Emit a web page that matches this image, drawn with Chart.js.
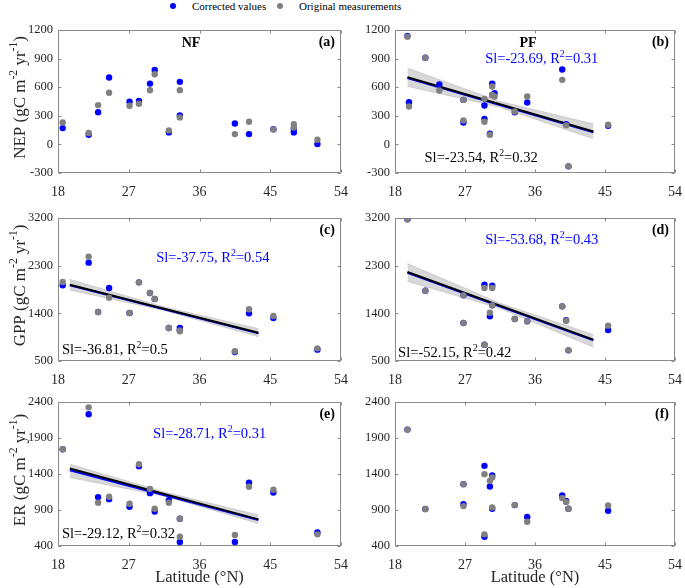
<!DOCTYPE html>
<html><head><meta charset="utf-8">
<script src="https://cdn.jsdelivr.net/npm/chart.js@4/dist/chart.umd.min.js"></script>
<style>
html,body{margin:0;padding:0;background:#fff}
body{width:685px;height:588px;position:relative;overflow:hidden;font-family:'Liberation Serif','Times New Roman',serif}
.w{position:absolute}
.lg{position:absolute;top:0;font-size:11px;line-height:13px;color:#000;white-space:nowrap}
.dot{position:absolute;width:6px;height:6px;border-radius:50%}
</style></head><body>
<div class="dot" style="left:170px;top:3px;background:#0000ff"></div>
<div class="lg" style="left:192px">Corrected values</div>
<div class="dot" style="left:277px;top:3px;background:#808080"></div>
<div class="lg" style="left:299px">Original measurements</div>
<div class="w" id="wa"><canvas id="ca"></canvas></div>
<div class="w" id="wb"><canvas id="cb"></canvas></div>
<div class="w" id="wc"><canvas id="cc"></canvas></div>
<div class="w" id="wd"><canvas id="cd"></canvas></div>
<div class="w" id="we"><canvas id="ce"></canvas></div>
<div class="w" id="wf"><canvas id="cf"></canvas></div>
<script>
// ---------- tick labels ----------
const latTicks = [18, 27, 36, 45, 54];
const nepTicks = [-300, 0, 300, 600, 900, 1200];
const gppTicks = [500, 1400, 2300, 3200];
const erTicks  = [400, 900, 1400, 1900, 2400];

// ---------- (a) NF NEP ----------
const aLat  = [18.6, 21.9, 23.1, 24.5, 27.1, 28.3, 29.7, 30.3, 32.1, 33.5, 33.5, 40.5, 42.3, 45.4, 48.0, 48.0, 51.0];
const aCorr = [171, 101, 338, 701, 447, 457, 638, 781, 126, 656, 303, 220, 108, 160, 161, 126, 3];
const aOrig = [230, 119, 412, 541, 405, 426, 569, 736, 147, 569, 283, 108, 237, 157, 213, 178, 49];

// ---------- (b) PF NEP ----------
const bLat  = [19.6, 19.8, 21.9, 23.7, 26.8, 26.8, 29.5, 29.5, 30.2, 30.5, 30.5, 30.8, 33.4, 35.0, 39.5, 40.0, 40.3, 45.4];
const bCorr = [1137, 443, 910, 628, 230, 467, 408, 268, 112, 638, 520, 537, 338, 440, 785, 213, -230, 195];
const bOrig = [1130, 398, 910, 565, 251, 467, 478, 237, 101, 607, 520, 502, 345, 502, 677, 200, -230, 206];
const bFitLat  = [19.6, 43.5];
const bFitCorr = [695, 128];
const bFitOrig = [705, 136];
const bBandLat = [19.6, 31.5, 43.5];
const bBandUp  = [800, 450, 215];
const bBandLo  = [610, 390, 60];

// ---------- (c) NF GPP ----------
const cLat  = [18.6, 21.9, 23.1, 24.5, 27.1, 28.3, 29.7, 30.3, 32.1, 33.5, 33.5, 40.5, 42.3, 45.4, 51.0];
const cCorr = [1929, 2357, 1425, 1878, 1406, 1985, 1784, 1671, 1123, 1123, 1079, 670, 1400, 1312, 714];
const cOrig = [1992, 2470, 1425, 1696, 1406, 1985, 1784, 1671, 1123, 1079, 1060, 683, 1476, 1350, 739];
const cFitLat  = [19.5, 43.5];
const cFitCorr = [1930, 1022];
const cFitOrig = [1941, 1035];
const cBandLat = [19.5, 31.5, 43.5];
const cBandUp  = [2040, 1520, 1110];
const cBandLo  = [1840, 1455, 960];

// ---------- (d) PF GPP ----------
const dLat  = [19.6, 21.9, 26.8, 26.8, 29.5, 29.5, 30.2, 30.5, 30.5, 33.4, 35.0, 39.5, 40.0, 40.3, 45.4];
const dCorr = [3175, 1828, 1740, 1217, 1941, 808, 1343, 1922, 1551, 1293, 1249, 1532, 1268, 701, 1085];
const dOrig = [3175, 1828, 1740, 1217, 1878, 808, 1413, 1878, 1551, 1293, 1249, 1532, 1262, 701, 1167];
const dFitLat  = [19.6, 43.5];
const dFitCorr = [2165, 893];
const dFitOrig = [2180, 903];
const dBandLat = [19.6, 31.5, 43.5];
const dBandUp  = [2338, 1590, 997];
const dBandLo  = [2004, 1495, 764];

// ---------- (e) NF ER ----------
const eLat  = [18.6, 21.9, 23.1, 24.5, 27.1, 28.3, 29.7, 30.3, 32.1, 33.5, 33.5, 40.5, 42.3, 45.4, 51.0];
const eCorr = [1744, 2229, 1079, 1051, 945, 1509, 1134, 880, 1037, 779, 455, 455, 1278, 1144, 589];
const eOrig = [1744, 2326, 1000, 1084, 987, 1536, 1194, 917, 1000, 779, 529, 552, 1222, 1181, 562];
const eFitLat  = [19.5, 43.5];
const eFitCorr = [1453, 760];
const eFitOrig = [1476, 770];
const eBandLat = [19.5, 31.5, 43.5];
const eBandUp  = [1536, 1150, 830];
const eBandLo  = [1352, 1095, 714];

// ---------- (f) PF ER ----------
const fLat  = [19.6, 21.9, 26.8, 26.8, 29.5, 29.5, 30.2, 30.5, 30.5, 33.4, 35.0, 39.5, 40.0, 40.3, 45.4];
const fCorr = [2017, 913, 1259, 982, 1513, 529, 1227, 1379, 917, 968, 802, 1102, 1024, 917, 890];
const fOrig = [2017, 913, 1259, 954, 1398, 562, 1305, 1351, 936, 968, 737, 1065, 1010, 917, 963];

// ---------- styling ----------
const FONT = "'Liberation Serif','Times New Roman',serif";
const BLUE = '#0000ff', GRAY = '#808080', FRAME = '#8a8a8a', TXT = '#262626', BAND = '#d8d8d8';
Chart.defaults.font.family = FONT;

function fnt(size, weight) { return (weight || 'normal') + ' ' + size + 'px ' + FONT; }
function richW(ctx, parts, size, weight) {
  let w = 0;
  for (const [t, s] of parts) { ctx.font = fnt(s ? size * 0.68 : size, weight); w += ctx.measureText(t).width; }
  return w;
}
function drawRich(ctx, parts, x, y, size, color, align, weight) {
  ctx.fillStyle = color; ctx.textBaseline = 'alphabetic'; ctx.textAlign = 'left';
  let cx = align === 'center' ? x - richW(ctx, parts, size, weight) / 2 : (align === 'right' ? x - richW(ctx, parts, size, weight) : x);
  const base = y + size * 0.33;
  for (const [t, s] of parts) {
    ctx.font = fnt(s ? size * 0.68 : size, weight);
    ctx.fillText(t, cx, s ? base - size * 0.42 : base);
    cx += ctx.measureText(t).width;
  }
}
const unitParts = name => [[name + ' (gC m', 0], ['-2', 1], [' yr', 0], ['-1', 1], [')', 0]];
const slParts = (sl, r2) => [['Sl=' + sl + ', R', 0], ['2', 1], ['=' + r2, 0]];

function makeDecor(p) {
  return {
    id: 'decor' + p.id,
    beforeDatasetsDraw(chart) {
      const { ctx, chartArea: a } = chart;
      const xs = chart.scales.x, ys = chart.scales.y;
      const L = Math.round(a.left) + 0.5, R = Math.round(a.right) - 0.5, T = Math.round(a.top) + 0.5, B = Math.round(a.bottom) - 0.5;
      ctx.save();
      ctx.strokeStyle = FRAME; ctx.lineWidth = 1;
      ctx.strokeRect(L, T, R - L, B - T);
      ctx.beginPath();
      ys.ticks.forEach(t => {
        const y = Math.round(ys.getPixelForValue(t.value)) + 0.5;
        ctx.moveTo(L, y); ctx.lineTo(L + 3, y); ctx.moveTo(R, y); ctx.lineTo(R - 3, y);
      });
      xs.ticks.forEach(t => {
        const x = Math.round(xs.getPixelForValue(t.value)) + 0.5;
        ctx.moveTo(x, B); ctx.lineTo(x, B - 3); ctx.moveTo(x, T); ctx.lineTo(x, T + 3);
      });
      ctx.stroke();
      ctx.restore();
    },
    afterDatasetsDraw(chart) {
      const { ctx, chartArea: a } = chart;
      const xs = chart.scales.x, ys = chart.scales.y;
      ctx.save();
      ctx.font = fnt(14, 'bold'); ctx.fillStyle = '#000'; ctx.textAlign = 'right'; ctx.textBaseline = 'middle';
      ctx.fillText(p.label, a.right - 6, a.top + 12);
      if (p.group) {
        ctx.textAlign = 'center';
        ctx.fillText(p.group, a.left + 133, a.top + 13);
      }
      (p.notes || []).forEach(n => {
        drawRich(ctx, slParts(n.sl, n.r2), xs.getPixelForValue(n.x), ys.getPixelForValue(n.y), 14.5, n.color, 'left');
      });
      if (p.ytitle) {
        ctx.save();
        ctx.translate(a.left - 39, (a.top + a.bottom) / 2 - 4);
        ctx.rotate(-Math.PI / 2);
        drawRich(ctx, unitParts(p.ytitle), 0, 0, 17, TXT, 'center');
        ctx.restore();
      }
      if (p.xtitle) {
        drawRich(ctx, [[p.xtitle, 0]], (a.left + a.right) / 2, a.bottom + 31, 16.5, TXT, 'center');
      }
      ctx.restore();
    }
  };
}

const pts = (xs, ys) => xs.map((x, i) => ({ x: x, y: ys[i] }));
const PADT = 13;

function build(p) {
  const wrap = document.getElementById('w' + p.id);
  const cv = document.getElementById('c' + p.id);
  const H = PADT + p.plotH + p.xh;
  wrap.style.left = p.left + 'px'; wrap.style.top = (p.plotTop - PADT) + 'px';
  cv.width = p.W; cv.height = H; cv.style.width = p.W + 'px'; cv.style.height = H + 'px';
  const ds = [];
  ds.push({ label: 'Corrected values', data: pts(p.lat, p.corr), backgroundColor: BLUE, borderWidth: 0, pointRadius: 3.2, order: 1 });
  ds.push({ label: 'Original measurements', data: pts(p.lat, p.orig), backgroundColor: GRAY, borderWidth: 0, pointRadius: 3.2, order: 0 });
  if (p.fit) {
    const f = p.fit;
    ds.push({ label: 'band up', data: pts(f.bandLat, f.up), showLine: true, pointRadius: 0, borderWidth: 0.8, borderColor: '#c4c4c4', backgroundColor: BAND, fill: '+1', order: 5 });
    ds.push({ label: 'band lo', data: pts(f.bandLat, f.lo), showLine: true, pointRadius: 0, borderWidth: 0.8, borderColor: '#c4c4c4', fill: false, order: 4 });
    ds.push({ label: 'fit corrected', data: pts(f.lat, f.corr), showLine: true, pointRadius: 0, borderWidth: 2, borderColor: BLUE, fill: false, order: 3 });
    ds.push({ label: 'fit original', data: pts(f.lat, f.orig), showLine: true, pointRadius: 0, borderWidth: 2, borderColor: '#000', fill: false, order: 2 });
  }
  const yt = p.ticks;
  new Chart(cv, {
    type: 'scatter',
    data: { datasets: ds },
    options: {
      responsive: false, animation: false, devicePixelRatio: 1,
      layout: { padding: { top: PADT, right: p.padR, left: 0, bottom: 0 } },
      plugins: { legend: { display: false }, tooltip: { enabled: false } },
      scales: {
        x: {
          type: 'linear', min: latTicks[0], max: latTicks[latTicks.length - 1],
          afterBuildTicks: s => { s.ticks = latTicks.map(v => ({ value: v })); },
          afterFit: s => { s.height = p.xh; },
          grid: { display: false, drawTicks: true, tickLength: 8 }, border: { display: false },
          ticks: { font: { size: 14 }, color: TXT, padding: 3, maxRotation: 0, autoSkip: false, callback: v => String(v) }
        },
        y: {
          type: 'linear', min: yt[0], max: yt[yt.length - 1],
          afterBuildTicks: s => { s.ticks = yt.map(v => ({ value: v })); },
          afterFit: s => { s.width = p.yw; },
          grid: { display: false, drawTicks: false }, border: { display: false },
          ticks: { font: { size: 12.5 }, color: TXT, padding: 5, autoSkip: false, callback: v => String(v) }
        }
      }
    },
    plugins: [makeDecor(p)]
  });
}

const panels = [
  { id: 'a', left: 0, plotTop: 30, W: 351, padR: 10, yw: 58, xh: 28, plotH: 143, ticks: nepTicks, lat: aLat, corr: aCorr, orig: aOrig, label: '(a)', group: 'NF', ytitle: 'NEP' },
  { id: 'b', left: 340, plotTop: 30, W: 345, padR: 7, yw: 55, xh: 28, plotH: 143, ticks: nepTicks, lat: bLat, corr: bCorr, orig: bOrig, label: '(b)', group: 'PF',
    fit: { lat: bFitLat, corr: bFitCorr, orig: bFitOrig, bandLat: bBandLat, up: bBandUp, lo: bBandLo },
    notes: [{ x: 29.6, y: 906, color: BLUE, sl: '-23.69', r2: '0.31' }, { x: 21.8, y: -132, color: '#000', sl: '-23.54', r2: '0.32' }] },
  { id: 'c', left: 0, plotTop: 218, W: 351, padR: 10, yw: 58, xh: 28, plotH: 143, ticks: gppTicks, lat: cLat, corr: cCorr, orig: cOrig, label: '(c)', ytitle: 'GPP',
    fit: { lat: cFitLat, corr: cFitCorr, orig: cFitOrig, bandLat: cBandLat, up: cBandUp, lo: cBandLo },
    notes: [{ x: 30.5, y: 2464, color: BLUE, sl: '-37.75', r2: '0.54' }, { x: 18.5, y: 727, color: '#000', sl: '-36.81', r2: '0.5' }] },
  { id: 'd', left: 340, plotTop: 218, W: 345, padR: 7, yw: 55, xh: 28, plotH: 143, ticks: gppTicks, lat: dLat, corr: dCorr, orig: dOrig, label: '(d)',
    fit: { lat: dFitLat, corr: dFitCorr, orig: dFitOrig, bandLat: dBandLat, up: dBandUp, lo: dBandLo },
    notes: [{ x: 29.6, y: 2804, color: BLUE, sl: '-53.68', r2: '0.43' }, { x: 18.4, y: 670, color: '#000', sl: '-52.15', r2: '0.42' }] },
  { id: 'e', left: 0, plotTop: 402, W: 351, padR: 10, yw: 58, xh: 46, plotH: 144, ticks: erTicks, lat: eLat, corr: eCorr, orig: eOrig, label: '(e)', ytitle: 'ER', xtitle: 'Latitude (°N)',
    fit: { lat: eFitLat, corr: eFitCorr, orig: eFitOrig, bandLat: eBandLat, up: eBandUp, lo: eBandLo },
    notes: [{ x: 30.1, y: 1969, color: BLUE, sl: '-28.71', r2: '0.31' }, { x: 18.5, y: 581, color: '#000', sl: '-29.12', r2: '0.32' }] },
  { id: 'f', left: 340, plotTop: 402, W: 345, padR: 7, yw: 55, xh: 46, plotH: 144, ticks: erTicks, lat: fLat, corr: fCorr, orig: fOrig, label: '(f)', xtitle: 'Latitude (°N)' }
];
panels.forEach(build);
</script>
</body></html>
